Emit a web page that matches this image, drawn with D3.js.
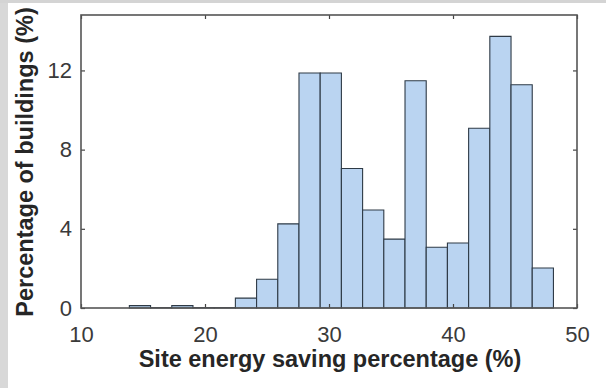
<!DOCTYPE html>
<html>
<head>
<meta charset="utf-8">
<script src="https://cdn.jsdelivr.net/npm/d3@7"></script>
<style>
  html, body { margin: 0; padding: 0; background: #fff; }
  svg { display: block; font-family: "Liberation Sans", Arial, sans-serif; }
</style>
</head>
<body>
<svg id="chart" width="606" height="388"></svg>
<script>
// Histogram of site energy savings, 20 bins
var binStart = 13.9;
var binWidth = 1.71;
var binValues = [0.12, 0.02, 0.12, 0.02, 0.02, 0.5, 1.45, 4.25, 11.87, 11.87,
                 7.05, 4.95, 3.48, 11.48, 3.07, 3.28, 9.08, 13.72, 11.28, 2.02];
var xTicks = [10, 20, 30, 40, 50];
var yTicks = [0, 4, 8, 12];

var svg = d3.select('#chart');
var W = 606, H = 388;
var m = { left: 81, right: 29, top: 15, bottom: 80 };

// grey border strips from the scanned original
svg.append('rect').attr('x', 0).attr('y', 0).attr('width', 8).attr('height', H).attr('fill', '#d8d8d8');
svg.append('rect').attr('x', 0).attr('y', 0).attr('width', W).attr('height', 3).attr('fill', '#d4d4d4');

var x = d3.scaleLinear().domain([10, 50]).range([m.left, W - m.right]);
var y = d3.scaleLinear().domain([0, 14.8]).range([H - m.bottom, m.top]);

var bins = binValues.map(function (v, i) {
  return { x0: binStart + i * binWidth, x1: binStart + (i + 1) * binWidth, v: v };
});

svg.append('g').selectAll('path')
  .data(bins)
  .join('path')
  .attr('d', function (d) {
    return 'M' + x(d.x0) + ',' + y(0) + 'V' + y(d.v) + 'H' + x(d.x1) + 'V' + y(0) + 'Z';
  })
  .attr('fill', '#bad4f1')
  .attr('stroke', '#2e3a46')
  .attr('stroke-width', 1.1);

// axes with inward ticks, MATLAB style
var tickLen = 4;
var gx = svg.append('g').attr('transform', 'translate(0,' + y(0) + ')')
  .call(d3.axisBottom(x).tickValues(xTicks).tickSizeInner(-tickLen).tickSizeOuter(0).tickPadding(18));
var gxt = svg.append('g').attr('transform', 'translate(0,' + m.top + ')')
  .call(d3.axisTop(x).tickValues(xTicks).tickSizeInner(-tickLen).tickSizeOuter(0).tickFormat(''));
var gy = svg.append('g').attr('transform', 'translate(' + m.left + ',0)')
  .call(d3.axisLeft(y).tickValues(yTicks).tickSizeInner(-tickLen).tickSizeOuter(0).tickPadding(9));
var gyr = svg.append('g').attr('transform', 'translate(' + (W - m.right) + ',0)')
  .call(d3.axisRight(y).tickValues(yTicks).tickSizeInner(-tickLen).tickSizeOuter(0).tickFormat(''));

[gx, gxt, gy, gyr].forEach(function (g) {
  g.select('.domain').remove();
  g.selectAll('line').attr('stroke', '#444').attr('stroke-width', 1.2);
  g.selectAll('text').attr('fill', '#3a3a3a').style('font-size', '22px')
    .style('font-family', '"Liberation Sans", Arial, sans-serif');
});

svg.append('rect')
  .attr('x', m.left).attr('y', m.top)
  .attr('width', W - m.left - m.right).attr('height', y(0) - m.top)
  .attr('fill', 'none').attr('stroke', '#555').attr('stroke-width', 1.6);

svg.append('text')
  .attr('x', (m.left + W - m.right) / 2 + 1).attr('y', 367)
  .attr('text-anchor', 'middle')
  .attr('font-weight', 'bold').attr('font-size', '23.5px').attr('fill', '#262626')
  .text('Site energy saving percentage (%)');

svg.append('text')
  .attr('transform', 'translate(33,' + 162 + ') rotate(-90)')
  .attr('text-anchor', 'middle')
  .attr('font-weight', 'bold').attr('font-size', '23.5px').attr('fill', '#262626')
  .text('Percentage of buildings (%)');
</script>
</body>
</html>
